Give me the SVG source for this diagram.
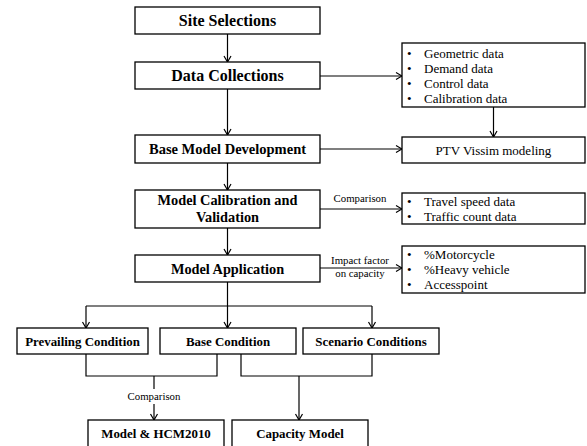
<svg xmlns="http://www.w3.org/2000/svg" width="587" height="446" viewBox="0 0 587 446">
<style>
text{font-family:"Liberation Serif","Times New Roman",Times,"DejaVu Serif",serif}
.box{fill:#fff;stroke:#000;stroke-width:1.3}
.t{font-weight:bold;fill:#000;text-anchor:middle}
.b{font-size:13px;fill:#000}
.lab{font-size:10.8px;fill:#000;text-anchor:middle}
.c{fill:none;stroke:#000;stroke-width:1.2}
.ca{fill:none;stroke:#000;stroke-width:1.2;marker-end:url(#ah)}
</style>
<defs>
<marker id="ah" markerUnits="userSpaceOnUse" markerWidth="10" markerHeight="10" viewBox="0 0 10 10" refX="9" refY="5" orient="auto">
<path d="M3,1.5 L9,5 L3,8.5" fill="none" stroke="#000" stroke-width="1.2"/>
</marker>
</defs>
<g id="connectors">
<line class="ca" x1="227.5" y1="34" x2="227.5" y2="62"/>
<line class="ca" x1="227.5" y1="89" x2="227.5" y2="135"/>
<line class="ca" x1="227.5" y1="163" x2="227.5" y2="190"/>
<line class="ca" x1="227.5" y1="228" x2="227.5" y2="255"/>
<line class="c" x1="227.5" y1="282" x2="227.5" y2="306"/>
<line class="c" x1="86" y1="306" x2="372" y2="306"/>
<line class="ca" x1="86" y1="306" x2="86" y2="328"/>
<line class="ca" x1="227.5" y1="306" x2="227.5" y2="328"/>
<line class="ca" x1="372" y1="306" x2="372" y2="328"/>
<line class="ca" x1="320" y1="76" x2="402" y2="76"/>
<line class="ca" x1="493.5" y1="107" x2="493.5" y2="137"/>
<line class="ca" x1="320" y1="149" x2="402" y2="149"/>
<line class="ca" x1="320" y1="209" x2="402" y2="209"/>
<line class="ca" x1="320" y1="268" x2="402" y2="268"/>
<polyline class="c" points="86,354 86,376 217,376 217,354"/>
<line class="c" x1="154" y1="376" x2="154" y2="389"/>
<line class="ca" x1="154" y1="404" x2="154" y2="420"/>
<polyline class="c" points="241,354 241,376 372,376 372,354"/>
<line class="ca" x1="299" y1="376" x2="299" y2="420"/>
<text class="lab" x="360" y="202">Comparison</text>
<text class="lab" x="360" y="264">Impact factor</text>
<text class="lab" x="360" y="277">on capacity</text>
<text class="lab" x="154" y="400">Comparison</text>
</g>
<g id="site">
<rect class="box" x="135" y="7" width="185" height="27"/>
<text class="t" x="227.5" y="26" font-size="16">Site Selections</text>
</g>
<g id="data">
<rect class="box" x="135" y="62" width="185" height="27"/>
<text class="t" x="227.5" y="81" font-size="16">Data Collections</text>
</g>
<g id="datalist">
<rect class="box" x="402" y="43" width="183" height="64"/>
<text class="b" x="407" y="58">•<tspan x="424">Geometric data</tspan></text>
<text class="b" x="407" y="73">•<tspan x="424">Demand data</tspan></text>
<text class="b" x="407" y="88">•<tspan x="424">Control data</tspan></text>
<text class="b" x="407" y="103">•<tspan x="424">Calibration data</tspan></text>
</g>
<g id="base">
<rect class="box" x="135" y="135" width="185" height="28"/>
<text class="t" x="227.5" y="154" font-size="14.5">Base Model Development</text>
</g>
<g id="ptv">
<rect class="box" x="402" y="137" width="183" height="26"/>
<text class="b" x="493.5" y="154.5" text-anchor="middle" font-size="13.2">PTV Vissim modeling</text>
</g>
<g id="calib">
<rect class="box" x="135" y="190" width="185" height="38"/>
<text class="t" x="227.5" y="205" font-size="14.3">Model Calibration and</text>
<text class="t" x="227.5" y="221.5" font-size="14.3">Validation</text>
</g>
<g id="travel">
<rect class="box" x="402" y="193" width="183" height="31"/>
<text class="b" x="407" y="206" font-size="12.5">•<tspan x="424">Travel speed data</tspan></text>
<text class="b" x="407" y="220.5" font-size="12.5">•<tspan x="424">Traffic count data</tspan></text>
</g>
<g id="app">
<rect class="box" x="135" y="255" width="185" height="27"/>
<text class="t" x="227.5" y="273.5" font-size="14.3">Model Application</text>
</g>
<g id="impact">
<rect class="box" x="402" y="246" width="183" height="47"/>
<text class="b" x="407" y="259">•<tspan x="424">%Motorcycle</tspan></text>
<text class="b" x="407" y="274">•<tspan x="424">%Heavy vehicle</tspan></text>
<text class="b" x="407" y="289">•<tspan x="424">Accesspoint</tspan></text>
</g>
<g id="prevailing">
<rect class="box" x="17" y="328" width="131" height="26"/>
<text class="t" x="82.5" y="345.5" font-size="12.9">Prevailing Condition</text>
</g>
<g id="basecond">
<rect class="box" x="160" y="328" width="136" height="26"/>
<text class="t" x="228" y="345.5" font-size="12.9">Base Condition</text>
</g>
<g id="scenario">
<rect class="box" x="303" y="328" width="136" height="26"/>
<text class="t" x="371" y="345.5" font-size="12.9">Scenario Conditions</text>
</g>
<g id="hcm">
<rect class="box" x="88" y="420" width="136" height="40"/>
<text class="t" x="156" y="438" font-size="12.9">Model &amp; HCM2010</text>
</g>
<g id="capacity">
<rect class="box" x="232" y="420" width="136" height="40"/>
<text class="t" x="300" y="438" font-size="12.9">Capacity Model</text>
</g>
</svg>
